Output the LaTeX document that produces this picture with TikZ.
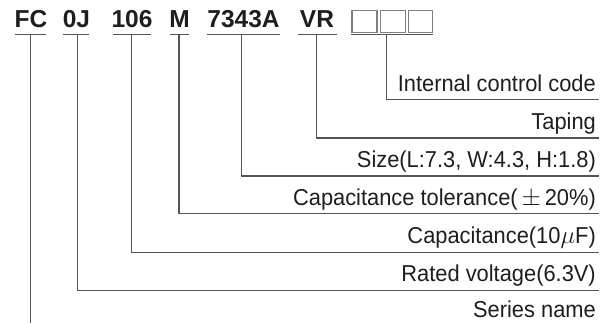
\documentclass[tikz,border=0pt]{standalone}
\usepackage{fontspec}
\setmainfont{Liberation Sans}
\newfontfamily\lblfont[FakeStretch=0.95]{Liberation Sans}
\definecolor{linegray}{HTML}{555555}
\definecolor{txt}{HTML}{1E1E1E}
\begin{document}
\begin{tikzpicture}[x=1pt,y=-1pt,
  code/.style={inner sep=0pt,anchor=base,text=txt,font=\fontsize{24.5}{28}\selectfont\bfseries},
  lbl/.style={inner sep=0pt,anchor=base east,text=txt,font=\fontsize{23}{27}\lblfont},
  conn/.style={draw=linegray,line width=1.1pt},
  ubar/.style={draw=linegray,line width=1.1pt},
  cbox/.style={draw=gray,line width=1.2pt,minimum height=22pt,inner sep=0pt}]
\useasboundingbox (0,0) rectangle (609,323);
% code parts
\node[code] (fc) at (31,28) {FC};
\node[code] (oj) at (76.5,28) {0J};
\node[code] (n106) at (132,28) {106};
\node[code] (m) at (179.5,28) {M};
\node[code] (sz) at (243.5,28) {7343A};
\node[code] (vr) at (317,28) {VR};
\node[cbox,minimum width=25pt] (b1) at (364.5,21.5) {};
\node[cbox,minimum width=25pt] (b2) at (393,21.5) {};
\node[cbox,minimum width=23.5pt] (b3) at (420.5,21.5) {};
% underlines
\draw[ubar] (15,34.3) -- (46,34.3);
\draw[ubar] (63,34.3) -- (89,34.3);
\draw[ubar] (113,34.3) -- (151,34.3);
\draw[ubar] (170,34.3) -- (189,34.3);
\draw[ubar] (207,34.3) -- (280,34.3);
\draw[ubar] (298,34.3) -- (337,34.3);
\draw[ubar] (351,34.3) -- (433,34.3);
% connector starts
\coordinate (t1) at (30.7,34.3);
\coordinate (t2) at (77.7,34.3);
\coordinate (t3) at (131.7,34.3);
\coordinate (t4) at (179,34.3);
\coordinate (t5) at (241.7,34.3);
\coordinate (t6) at (316.7,34.3);
\coordinate (t7) at (386.5,34.3);
% line ends
\coordinate (e7) at (598.5,99.5);
\coordinate (e6) at (598.5,138);
\coordinate (e5) at (598.5,176);
\coordinate (e4) at (598.5,213.8);
\coordinate (e3) at (598.5,252.5);
\coordinate (e2) at (598.5,290.5);
\coordinate (e1) at (30.7,323);
% labels
\node[lbl] (l7) at (596,91.7) {Internal control code};
\node[lbl] (l6) at (596,129.5) {Taping};
\node[lbl] (l5) at (596,167.5) {Size(L:7.3, W:4.3, H:1.8)};
\node[lbl] (l4) at (596,205.2) {Capacitance tolerance(\,$\pm$\,20\%)};
\node[lbl] (l3) at (596,243.5) {Capacitance(10$\mu$F)};
\node[lbl] (l2) at (596,281.5) {Rated voltage(6.3V)};
\node[lbl] (l1) at (596,317) {Series name};
% connectors
\draw[conn] (t7) |- (e7);
\draw[conn] (t6) |- (e6);
\draw[conn] (t5) |- (e5);
\draw[conn] (t4) |- (e4);
\draw[conn] (t3) |- (e3);
\draw[conn] (t2) |- (e2);
\draw[conn] (t1) -- (e1);
\end{tikzpicture}
\end{document}
